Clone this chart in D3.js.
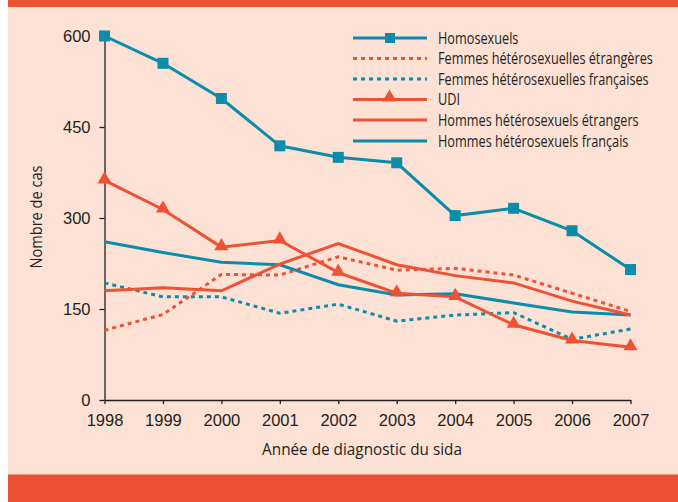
<!DOCTYPE html>
<html>
<head>
<meta charset="utf-8">
<script src="https://cdn.jsdelivr.net/npm/d3@7"></script>
<style>
  body { margin: 0; background: #fff; }
  svg { display: block; font-family: "Open Sans", sans-serif; }
</style>
</head>
<body>
<div id="chart"></div>
<script>
const years = [1998, 1999, 2000, 2001, 2002, 2003, 2004, 2005, 2006, 2007];
const yTicks = [0, 150, 300, 450, 600];

const homosexuels = [600, 555, 497, 419, 400, 391, 304, 316, 279, 215];
const femmesEtrangeres = [115, 141, 207, 206, 236, 214, 217, 206, 176, 146];
const femmesFrancaises = [193, 170, 170, 143, 158, 130, 140, 144, 100, 117];
const udi = [362, 314, 252, 263, 210, 176, 170, 124, 98, 87];
const hommesEtrangers = [180, 185, 180, 224, 258, 223, 205, 193, 163, 140];
const hommesFrancais = [261, 243, 227, 223, 190, 173, 175, 160, 145, 140];

const teal = '#0b8ca8';
const orange = '#ee5234';
const ink = '#231f20';

const series = [
  { name: 'Homosexuels', values: homosexuels, color: teal, dash: null, marker: 'square' },
  { name: 'Femmes hétérosexuelles étrangères', values: femmesEtrangeres, color: orange, dash: '4,4', marker: null },
  { name: 'Femmes hétérosexuelles françaises', values: femmesFrancaises, color: teal, dash: '4,4', marker: null },
  { name: 'UDI', values: udi, color: orange, dash: null, marker: 'triangle' },
  { name: 'Hommes hétérosexuels étrangers', values: hommesEtrangers, color: orange, dash: null, marker: null },
  { name: 'Hommes hétérosexuels français', values: hommesFrancais, color: teal, dash: null, marker: null },
];

// dotted and plain lines first, marker lines on top
const drawOrder = [2, 1, 5, 4, 3, 0];

const width = 678;
const height = 502;

const svg = d3.select('#chart')
  .append('svg')
  .attr('width', width)
  .attr('height', height);

// squeeze a text horizontally so it looks like the condensed face of the original
function condense(sel, target) {
  const node = sel.node();
  const w = node.getComputedTextLength();
  const k = Math.min(1, target / w);
  const x = +sel.attr('x') || 0;
  sel.attr('transform', (sel.attr('transform') || '') + ` translate(${x}, 0) scale(${k}, 1) translate(${-x}, 0)`);
  return k;
}

// page background and orange bands
svg.append('rect').attr('x', 8).attr('y', 0).attr('width', width - 8).attr('height', height).attr('fill', '#fde1d5');
svg.append('rect').attr('x', 8).attr('y', 0).attr('width', width - 8).attr('height', 7).attr('fill', orange);
svg.append('rect').attr('x', 8).attr('y', 474.5).attr('width', width - 8).attr('height', height - 474.5).attr('fill', orange);

const xScale = d3.scaleLinear().domain([1998, 2007]).range([104.5, 630.5]);
const yScale = d3.scaleLinear().domain([0, 600]).range([400, 36]);

const xAxis = svg.append('g')
  .attr('transform', `translate(0, ${yScale(0)})`)
  .call(d3.axisBottom(xScale).tickValues(years).tickFormat(d3.format('d')).tickSize(4).tickSizeOuter(0));

const yAxis = svg.append('g')
  .attr('transform', `translate(${xScale(1998)}, 0)`)
  .call(d3.axisLeft(yScale).tickValues(yTicks).tickSize(5).tickSizeOuter(0));

[xAxis, yAxis].forEach((g) => {
  g.select('.domain').attr('stroke', ink).attr('stroke-width', 1.3);
  g.selectAll('.tick line').attr('stroke', ink).attr('stroke-width', 1.3);
  g.selectAll('.tick text').attr('fill', ink).style('font-size', '16.5px');
});
xAxis.selectAll('.tick text').attr('y', 14.5);
yAxis.selectAll('.tick text').attr('x', -14);

const xTitle = svg.append('text')
  .attr('x', 362)
  .attr('y', 455.5)
  .attr('text-anchor', 'middle')
  .attr('fill', ink)
  .style('font-size', '16.5px')
  .text('Année de diagnostic du sida');
condense(xTitle, 200);

const yTitle = svg.append('text')
  .attr('transform', `translate(42, 217) rotate(-90)`)
  .attr('text-anchor', 'middle')
  .attr('fill', ink)
  .style('font-size', '16.5px')
  .text('Nombre de cas');
condense(yTitle, 103);

const line = d3.line()
  .x((d, i) => xScale(years[i]))
  .y((d) => yScale(d));

const triangle = d3.symbol().type(d3.symbolTriangle).size(85);

drawOrder.forEach((idx) => {
  const s = series[idx];
  const g = svg.append('g').attr('class', 'series');
  g.append('path')
    .datum(s.values)
    .attr('d', line)
    .attr('fill', 'none')
    .attr('stroke', s.color)
    .attr('stroke-width', 3)
    .attr('stroke-dasharray', s.dash);

  if (s.marker === 'square') {
    g.selectAll('rect')
      .data(s.values)
      .join('rect')
      .attr('x', (d, i) => xScale(years[i]) - 5.5)
      .attr('y', (d) => yScale(d) - 5.5)
      .attr('width', 11)
      .attr('height', 11)
      .attr('fill', s.color);
  } else if (s.marker === 'triangle') {
    g.selectAll('path.marker')
      .data(s.values)
      .join('path')
      .attr('class', 'marker')
      .attr('d', triangle)
      .attr('transform', (d, i) => `translate(${xScale(years[i])}, ${yScale(d) - 1})`)
      .attr('fill', s.color);
  }
});

// legend
const legend = svg.append('g').attr('class', 'legend');
const legendY = [38, 58.5, 79, 99.5, 120, 141];

const labels = [];
series.forEach((s, i) => {
  const row = legend.append('g').attr('transform', `translate(0, ${legendY[i]})`);
  row.append('line')
    .attr('x1', 353)
    .attr('x2', 427)
    .attr('stroke', s.color)
    .attr('stroke-width', 3)
    .attr('stroke-dasharray', s.dash);
  if (s.marker === 'square') {
    row.append('rect').attr('x', 385).attr('y', -5).attr('width', 10).attr('height', 10).attr('fill', s.color);
  } else if (s.marker === 'triangle') {
    row.append('path').attr('d', triangle).attr('transform', 'translate(389.5, -2)').attr('fill', s.color);
  }
  labels.push(row.append('text')
    .attr('x', 438)
    .attr('dy', '0.35em')
    .attr('fill', ink)
    .style('font-size', '16px')
    .text(s.name));
});

// same squeeze for every legend label, set by the longest one
const k = condense(labels[1], 215);
labels.forEach((t, i) => {
  if (i !== 1) t.attr('transform', `translate(438, 0) scale(${k}, 1) translate(-438, 0)`);
});
</script>
</body>
</html>
